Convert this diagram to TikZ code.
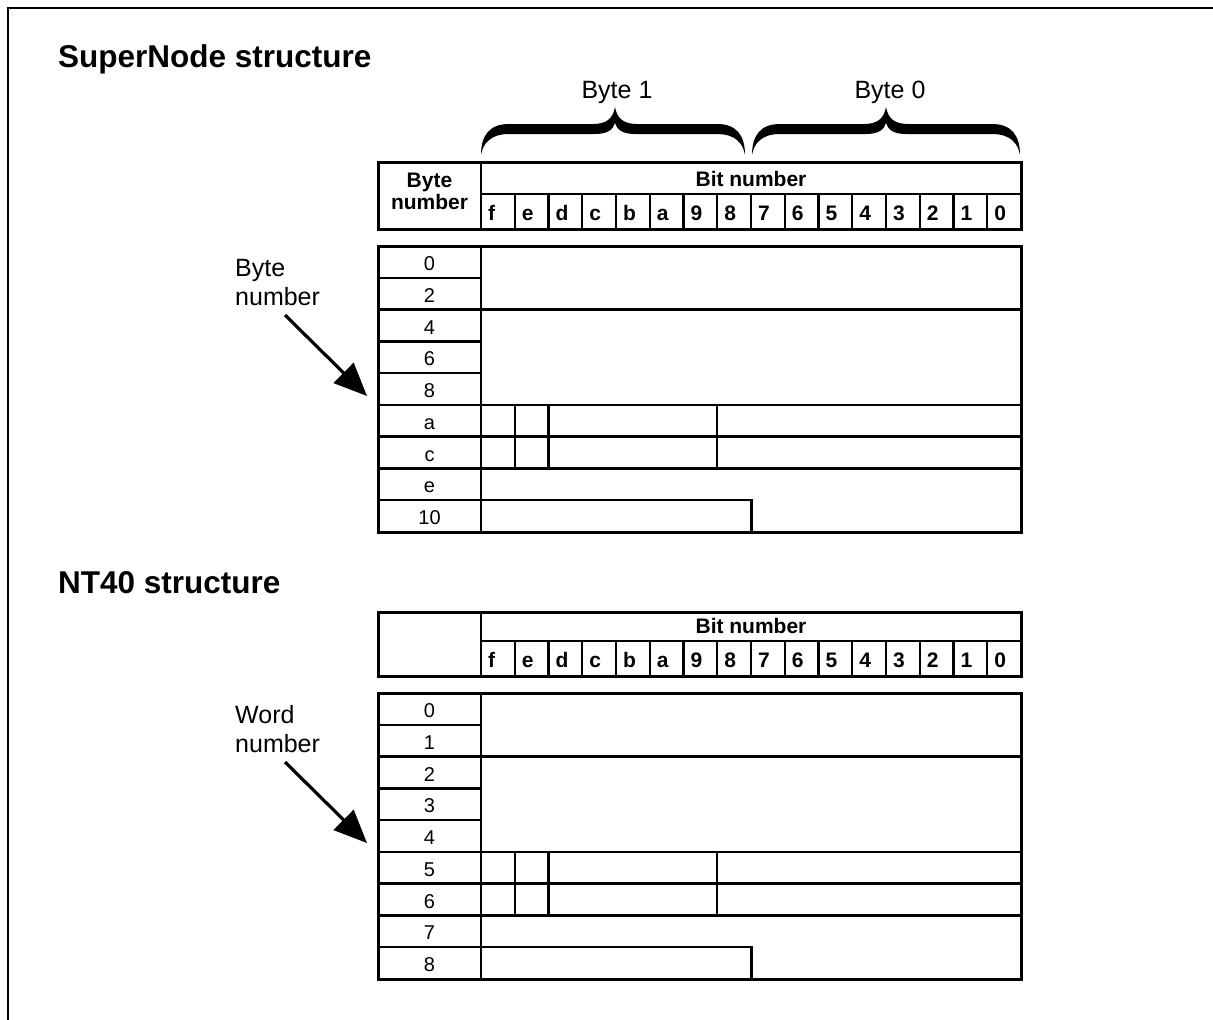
\documentclass[tikz,border=0pt]{standalone}
\usepackage{fontspec}
\setmainfont{Liberation Sans}
\usetikzlibrary{arrows.meta}
\tikzset{
  tline/.style={line width=2.4pt},
  outer/.style={line width=3pt},
  lbl/.style={font=\fontsize{25}{29}\selectfont, inner sep=0pt},
  ttl/.style={font=\bfseries\fontsize{31.5}{36}\selectfont, inner sep=0pt, anchor=base west},
  bitlbl/.style={font=\bfseries\fontsize{21}{24}\selectfont, inner sep=0pt, anchor=base west},
  hdr/.style={font=\bfseries\fontsize{21}{24}\selectfont, inner sep=0pt, anchor=base},
  num/.style={font=\fontsize{20}{24}\selectfont, inner sep=0pt, anchor=base},
  ptr/.style={line width=3.2pt, -{Triangle[length=33pt,width=28pt]}},
  frame/.style={line width=2pt}
}
\newcommand\mybracefill[3]{%
\fill ({#1},155) .. controls ({#1},136) and ({#1+8},124) .. ({#1+28},124) -- ({#2-22},124) .. controls ({#2-8},124) and ({#2-2},118) .. ({#2},107) .. controls ({#2+2},118) and ({#2+8},124) .. ({#2+22},124) -- ({#3-28},124) .. controls ({#3-8},124) and ({#3},136) .. ({#3},155) .. controls ({#3-2},143) and ({#3-10},134) .. ({#3-28},134) -- ({#2+20},134) .. controls ({#2+8},134) and ({#2+2},130) .. ({#2},123) .. controls ({#2-2},130) and ({#2-8},134) .. ({#2-20},134) -- ({#1+28},134) .. controls ({#1+10},134) and ({#1+2},143) .. ({#1},155) -- cycle;}
% #1 prefix, #2 header top, #3 row labels
\newcommand\mybitstable[3]{%
  \draw[outer] (378,#2) rectangle (1021,229);
  \draw[tline] (481,#2) -- (481,229);
  \draw[tline] (481,194) -- (1021,194);
  \foreach \i in {1,...,15} \draw[tline] ({481+\i*33.75},194) -- ({481+\i*33.75},229);
  \node[hdr] (#1bit) at (751,186) {Bit number};
  \foreach \b [count=\i from 0] in {f,e,d,c,b,a,9,8,7,6,5,4,3,2,1,0}
    \node[bitlbl] (#1b\i) at ({481+\i*33.75+7},220) {\b};
  % body
  \draw[outer] (378,246) rectangle (1021,532);
  \draw[tline] (481,246) -- (481,532);
  \foreach \k in {1,...,8} \draw[tline] (378,{246+\k*31.78}) -- (481,{246+\k*31.78});
  \foreach \k in {2,5,6,7} \draw[tline] (481,{246+\k*31.78}) -- (1021,{246+\k*31.78});
  \draw[tline] (481,{246+8*31.78}) -- (751.5,{246+8*31.78}) -- (751.5,532);
  \foreach \xx in {514.75,548.5,717.25} \draw[tline] (\xx,{246+5*31.78}) -- (\xx,{246+7*31.78});
  \foreach \r [count=\k from 0] in {#3}
    \node[num] (#1r\k) at (429.5,{246+\k*31.78+24.5}) {\r};
}
\begin{document}
\begin{tikzpicture}[x=1pt,y=-1pt]
\useasboundingbox (0,0) rectangle (1213,1020);
\draw[frame] (1213,8) -- (8,8) -- (8,1020);

% ---------- SuperNode ----------
\node[ttl] (t1) at (58,67) {SuperNode structure};
\node[lbl, anchor=base] (by1) at (617,98) {Byte 1};
\node[lbl, anchor=base] (by0) at (890,98) {Byte 0};
\mybracefill{481}{615}{745}
\mybracefill{752}{886}{1020}
\mybitstable{s}{162}{0,2,4,6,8,a,c,e,10}
\node[hdr] (sh1) at (429.5,187) {Byte};
\node[hdr] (sh2) at (429.5,209) {number};
\node[lbl, anchor=base west] (sl1) at (235,276) {Byte};
\node[lbl, anchor=base west] (sl2) at (235,305) {number};
\coordinate (sa1) at (285,315);
\coordinate (sa2) at (367,396);
\draw[ptr] (sa1) -- (sa2);

% ---------- NT40 ----------
\node[ttl] (t2) at (58,593) {NT40 structure};
\begin{scope}[shift={(0,447)}]
\mybitstable{n}{165}{0,1,2,3,4,5,6,7,8}
\node[lbl, anchor=base west] (nl1) at (235,276) {Word};
\node[lbl, anchor=base west] (nl2) at (235,305) {number};
\coordinate (na1) at (285,315);
\coordinate (na2) at (367,396);
\draw[ptr] (na1) -- (na2);
\end{scope}
\end{tikzpicture}
\end{document}
